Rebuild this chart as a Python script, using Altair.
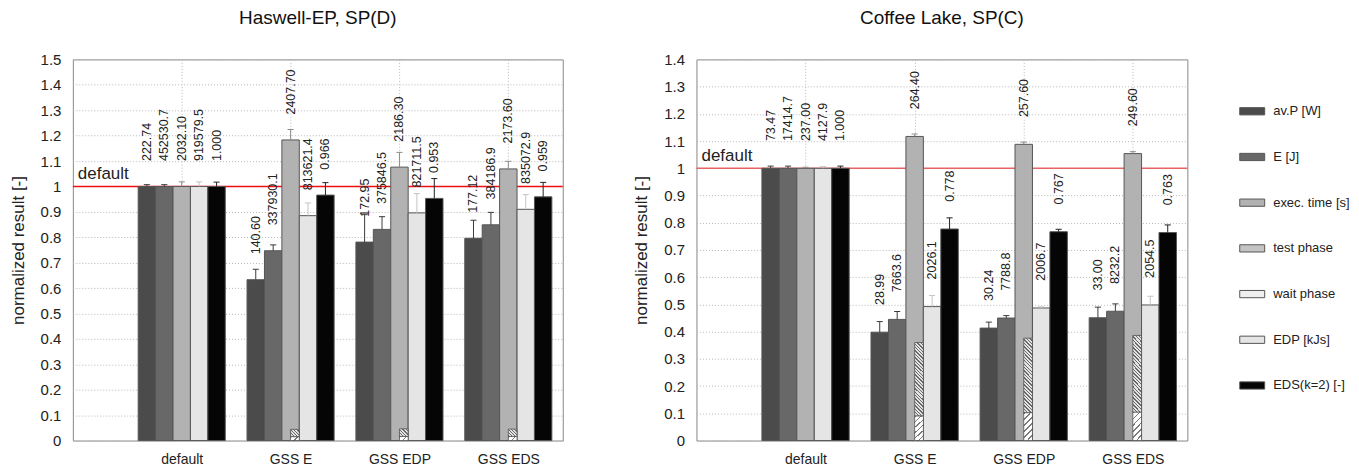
import altair as alt
import pandas as pd

categories = ["default", "GSS E", "GSS EDP", "GSS EDS"]
series = ["av.P [W]", "E [J]", "exec. time [s]", "EDP [kJs]", "EDS(k=2) [-]"]
legend_items = ["av.P [W]", "E [J]", "exec. time [s]", "test phase", "wait phase", "EDP [kJs]", "EDS(k=2) [-]"]

# ---- Haswell-EP, SP(D): normalized values (bar top) and error-bar tops
hw_avp = [1.000, 0.633, 0.781, 0.796]
hw_e = [1.000, 0.747, 0.831, 0.849]
hw_exec = [1.000, 1.183, 1.076, 1.069]
hw_edp = [1.000, 0.885, 0.896, 0.910]
hw_eds = [1.000, 0.966, 0.953, 0.959]
hw_avp_err = [1.007, 0.674, 0.889, 0.867]
hw_e_err = [1.007, 0.770, 0.881, 0.898]
hw_exec_err = [1.018, 1.224, 1.134, 1.099]
hw_edp_err = [1.018, 0.935, 0.972, 0.968]
hw_eds_err = [1.017, 1.015, 1.031, 1.016]
hw_wait = [None, 0.015, 0.016, 0.016]
hw_test = [None, 0.044, 0.046, 0.045]
hw_lab_avp = ["222.74", "140.60", "172.95", "177.12"]
hw_lab_e = ["452530.7", "337930.1", "375846.5", "384186.9"]
hw_lab_exec = ["2032.10", "2407.70", "2186.30", "2173.60"]
hw_lab_edp = ["919579.5", "813621.4", "821711.5", "835072.9"]
hw_lab_eds = ["1.000", "0.966", "0.953", "0.959"]

# ---- Coffee Lake, SP(C)
cl_avp = [1.000, 0.398, 0.413, 0.451]
cl_e = [1.000, 0.445, 0.450, 0.475]
cl_exec = [1.000, 1.117, 1.088, 1.054]
cl_edp = [1.000, 0.492, 0.487, 0.498]
cl_eds = [1.000, 0.777, 0.767, 0.764]
cl_avp_err = [1.008, 0.437, 0.435, 0.490]
cl_e_err = [1.008, 0.474, 0.459, 0.502]
cl_exec_err = [1.004, 1.126, 1.096, 1.061]
cl_edp_err = [1.006, 0.533, 0.491, 0.530]
cl_eds_err = [1.008, 0.818, 0.776, 0.792]
cl_wait = [None, 0.090, 0.102, 0.104]
cl_test = [None, 0.360, 0.376, 0.386]
cl_lab_avp = ["73.47", "28.99", "30.24", "33.00"]
cl_lab_e = ["17414.7", "7663.6", "7788.8", "8232.2"]
cl_lab_exec = ["237.00", "264.40", "257.60", "249.60"]
cl_lab_edp = ["4127.9", "2026.1", "2006.7", "2054.5"]
cl_lab_eds = ["1.000", "0.778", "0.767", "0.763"]

reference = [1.0]
reference_name = ["default"]

FONT = "Liberation Sans"
fill_colors = ["#4b4b4b", "#686868", "#b2b2b2", "#c4c4c4", "#efefef", "#e5e5e5", "#050505"]
err_colors = ["#3a3a3a", "#3a3a3a", "#8c8c8c", "#c4c4c4", "#222222"]


def bars_df(vals, errs, labels):
    rows = []
    for si, s in enumerate(series):
        for ci, c in enumerate(categories):
            rows.append(dict(cat=ci, ser=si, series=s, value=vals[si][ci],
                             err=errs[si][ci], label=labels[si][ci]))
    return pd.DataFrame(rows)


def phase_df(wait, test):
    rows = []
    for ci, c in enumerate(categories):
        if wait[ci] is not None:
            rows.append(dict(cat=ci, wait=wait[ci], test=test[ci]))
    return pd.DataFrame(rows)


def hatch(w, h, period, down, line_col, bg_col, frac):
    k = (w + h) / (w * w + h * h)
    if down:  # lines like "\\\"
        x1, y1, x2, y2 = 0, 1, w * k, 1 - h * k
    else:     # lines like "///"
        x1, y1, x2, y2 = 0, 0, w * k, h * k
    n = max(1, round(((w + h) / 1.4142) / period))
    stops = []
    for i in range(n):
        a = i / n
        b = (i + frac) / n
        c = (i + 1) / n
        stops += [alt.GradientStop(color=line_col, offset=a),
                  alt.GradientStop(color=line_col, offset=b),
                  alt.GradientStop(color=bg_col, offset=b),
                  alt.GradientStop(color=bg_col, offset=c)]
    return alt.Gradient(gradient="linear", stops=stops, x1=x1, y1=y1, x2=x2, y2=y2)


def panel(title, df, pdf, ymax, width, height, test_dims, wait_dims, red, show_legend):
    xsc = alt.Scale(domain=[-1, 3.5], nice=False, zero=False)
    ysc = alt.Scale(domain=[0, ymax], nice=False, zero=True)
    label_expr = "[" + ",".join("'%s'" % c for c in categories) + "][datum.value]"
    xaxis = alt.Axis(values=list(range(len(categories))), labelExpr=label_expr, title=None,
                     grid=True, gridDash=[1, 2], gridColor="#b8b8b8", ticks=False, domain=False,
                     labelFontSize=14, labelPadding=12, labelColor="#222", labelFont=FONT)
    yvals = [round(i * 0.1, 1) for i in range(int(round(ymax * 10)) + 1)]
    yaxis = alt.Axis(values=yvals, format="~g", title="normalized result [-]",
                     grid=True, gridDash=[1, 2], gridColor="#b8b8b8", ticks=False, domain=False,
                     labelFontSize=15, labelPadding=12, labelColor="#222", labelFont=FONT,
                     titleFontSize=17, titleFontWeight="normal", titlePadding=13,
                     titleColor="#222", titleFont=FONT)

    def X(f):
        return alt.X(f, type="quantitative", scale=xsc, axis=xaxis)

    def Y(f):
        return alt.Y(f, type="quantitative", scale=ysc, axis=yaxis)

    base = (alt.Chart(df)
            .transform_calculate(xc="datum.cat + (datum.ser - 2) * 0.16")
            .transform_calculate(xl="datum.xc - 0.08")
            .transform_calculate(xr="datum.xc + 0.08")
            .transform_calculate(cl="datum.xc - 0.028")
            .transform_calculate(cr="datum.xc + 0.028")
            .transform_calculate(ly="datum.value + 0.1"))

    if show_legend:
        leg = alt.Legend(title=None, orient="none", legendX=544, legendY=39,
                         symbolType="M-1,-0.29H1V0.29H-1Z", symbolSize=625,
                         symbolStrokeColor="#555555", symbolStrokeWidth=1,
                         labelFontSize=13, labelFont=FONT, labelColor="#222",
                         labelOffset=8, rowPadding=25.8, padding=0, symbolOpacity=1)
    else:
        leg = None

    ref = pd.DataFrame({"ref": reference, "name": reference_name})
    red_line = alt.Chart(ref).mark_rule(color=red, strokeWidth=1.6).encode(y=Y("ref"))
    default_txt = alt.Chart(ref).mark_text(align="left", baseline="bottom", fontSize=17,
                                           dy=-3, color="#222", font=FONT).encode(
        x=alt.value(5), y=Y("ref"), text="name:N")

    bars = base.mark_rect(stroke="#555555", strokeWidth=1).encode(
        x=X("xl"), x2="xr:Q", y=Y("value"), y2=alt.datum(0),
        color=alt.Color("series:N", scale=alt.Scale(domain=legend_items, range=fill_colors),
                        legend=leg))

    pbase = alt.Chart(pdf).transform_calculate(pr="datum.cat + 0.08")
    test = pbase.mark_rect(fill=hatch(test_dims[0], test_dims[1], 2.4, True, "#6a6a6a", "#e4e4e4", 0.4),
                           stroke="#555555", strokeWidth=0.8).encode(
        x=X("cat"), x2="pr:Q", y=Y("wait"), y2="test:Q")
    wait = pbase.mark_rect(fill=hatch(wait_dims[0], wait_dims[1], 4.5, False, "#7a7a7a", "#ffffff", 0.25),
                           stroke="#555555", strokeWidth=0.8).encode(
        x=X("cat"), x2="pr:Q", y=Y("wait"), y2=alt.datum(0))

    stroke_sc = alt.Scale(domain=series, range=err_colors)
    errs = base.mark_rule(strokeWidth=1).encode(
        x=X("xc"), y=Y("value"), y2="err:Q",
        stroke=alt.Stroke("series:N", scale=stroke_sc, legend=None))
    caps = base.mark_rule(strokeWidth=1).encode(
        x=X("cl"), x2="cr:Q", y=Y("err"),
        stroke=alt.Stroke("series:N", scale=stroke_sc, legend=None))
    labels = base.mark_text(angle=270, align="left", baseline="middle", fontSize=12.5,
                            color="#222", font=FONT).encode(
        x=X("xc"), y=Y("ly"), text="label:N")

    return alt.layer(red_line, default_txt, bars, test, wait, errs, caps, labels).properties(
        width=width, height=height,
        title=alt.TitleParams(title, fontSize=19, fontWeight="normal", font=FONT,
                              color="#111", offset=24, anchor="middle"))


left = panel("Haswell-EP, SP(D)",
             bars_df([hw_avp, hw_e, hw_exec, hw_edp, hw_eds],
                     [hw_avp_err, hw_e_err, hw_exec_err, hw_edp_err, hw_eds_err],
                     [hw_lab_avp, hw_lab_e, hw_lab_exec, hw_lab_edp, hw_lab_eds]),
             phase_df(hw_wait, hw_test), 1.5, 491, 382,
             (8.7, 7.5), (8.7, 4.0), "#f01010", False)

right = panel("Coffee Lake, SP(C)",
              bars_df([cl_avp, cl_e, cl_exec, cl_edp, cl_eds],
                      [cl_avp_err, cl_e_err, cl_exec_err, cl_edp_err, cl_eds_err],
                      [cl_lab_avp, cl_lab_e, cl_lab_exec, cl_lab_edp, cl_lab_eds]),
              phase_df(cl_wait, cl_test), 1.4, 492, 382,
              (8.7, 74.0), (8.7, 27.0), "#e86464", True)

chart = (alt.hconcat(left, right, spacing=67)
         .resolve_scale(color="independent", stroke="independent")
         .resolve_legend(color="independent")
         .properties(padding={"left": 0, "top": 0, "right": 0, "bottom": 0})
         .configure(font=FONT)
         .configure_view(stroke="#888888", strokeWidth=1))

chart.save("out.html", embed_options={"renderer": "svg", "actions": False})
